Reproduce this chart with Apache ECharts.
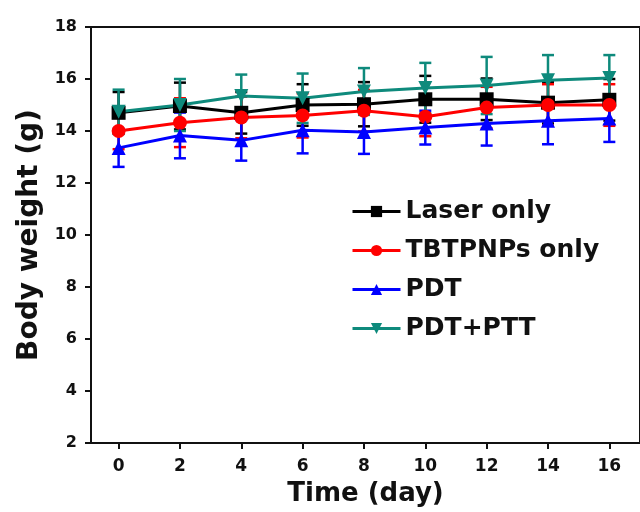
<!DOCTYPE html>
<html><head><meta charset="utf-8">
<script src="https://cdn.jsdelivr.net/npm/echarts@6/dist/echarts.min.js"></script>
<style>html,body{margin:0;padding:0;background:#fff}#c{width:640px;height:512px}</style>
</head><body><div id="c"></div>
<script>
var days = [0, 2, 4, 6, 8, 10, 12, 14, 16];
var xTicks = [0, 2, 4, 6, 8, 10, 12, 14, 16];
var seriesNames = ['Laser only', 'TBTPNPs only', 'PDT', 'PDT+PTT'];
var laserOnly = [14.7, 14.96, 14.7, 15.0, 15.03, 15.22, 15.22, 15.09, 15.2];
var laserErr = [0.8, 0.9, 0.8, 0.8, 0.85, 0.9, 0.8, 0.8, 0.8];
var tbtpnpsOnly = [14.0, 14.32, 14.52, 14.6, 14.78, 14.55, 14.9, 15.0, 15.0];
var tbtpnpsErr = [0.7, 0.94, 0.8, 0.85, 0.8, 0.75, 0.8, 0.8, 0.8];
var pdt = [13.35, 13.83, 13.64, 14.03, 13.96, 14.13, 14.29, 14.39, 14.48];
var pdtErr = [0.73, 0.88, 0.78, 0.89, 0.84, 0.65, 0.85, 0.9, 0.9];
var pdtPtt = [14.74, 15.0, 15.35, 15.26, 15.52, 15.65, 15.75, 15.95, 16.04];
var pdtPttErr = [0.85, 1.0, 0.82, 0.95, 0.9, 0.97, 1.1, 0.97, 0.88];

var colors = ['#000000', '#ff0000', '#0000ff', '#0e8a7c'];
var symbols = ['rect', 'circle', 'triangle', 'path://M0,0 L10,0 L5,9 Z'];
var means = [laserOnly, tbtpnpsOnly, pdt, pdtPtt];
var errs = [laserErr, tbtpnpsErr, pdtErr, pdtPttErr];
var FONT = 'DejaVu Sans';

var series = [];
means.forEach(function (m, i) {
  series.push({
    type: 'line', name: seriesNames[i], z: 3,
    data: days.map(function (d, k) { return [d, m[k]]; }),
    symbol: symbols[i], symbolSize: 14,
    showAllSymbol: true,
    lineStyle: { color: colors[i], width: 3 },
    itemStyle: { color: colors[i] },
    emphasis: { disabled: true }
  });
});
means.forEach(function (m, i) {
  var errData = days.map(function (d, k) { return [d, m[k] - errs[i][k], m[k] + errs[i][k]]; });
  series.push({
    type: 'custom', name: seriesNames[i], z: 2,
    data: errData,
    encode: { x: 0, y: [1, 2] },
    renderItem: function (params, api) {
      var x = api.value(0);
      var lo = api.coord([x, api.value(1)]);
      var hi = api.coord([x, api.value(2)]);
      var w = 6;
      var st = { stroke: colors[i], lineWidth: 2.5 };
      return { type: 'group', children: [
        { type: 'line', shape: { x1: lo[0], y1: lo[1], x2: hi[0], y2: hi[1] }, style: st },
        { type: 'line', shape: { x1: lo[0] - w, y1: lo[1], x2: lo[0] + w, y2: lo[1] }, style: st },
        { type: 'line', shape: { x1: hi[0] - w, y1: hi[1], x2: hi[0] + w, y2: hi[1] }, style: st }
      ]};
    }
  });
});

var chart = echarts.init(document.getElementById('c'), null, { renderer: 'canvas' });
chart.setOption({
  animation: false,
  backgroundColor: '#fff',
  color: colors,
  grid: { left: 91, right: -6, top: 27, bottom: 69, show: true, borderColor: '#111', borderWidth: 2, backgroundColor: 'transparent' },
  legend: {
    data: seriesNames,
    orient: 'vertical', left: 346, top: 194,
    itemWidth: 48, itemHeight: 14, itemGap: 14,
    lineStyle: { width: 3 },
    textStyle: { fontFamily: FONT, fontWeight: 'bold', fontSize: 25, color: '#111', padding: [0, 0, 0, 0] }
  },
  xAxis: {
    type: 'value', min: -0.9, max: 17,
    name: 'Time (day)', nameLocation: 'middle', nameGap: 38,
    nameTextStyle: { fontFamily: FONT, fontWeight: 'bold', fontSize: 26, color: '#111' },
    axisLine: { onZero: false, lineStyle: { color: '#111', width: 2 } },
    axisTick: { show: true, length: 6, lineStyle: { color: '#111', width: 2 }, customValues: xTicks },
    axisLabel: { customValues: xTicks, margin: 15, fontFamily: FONT, fontWeight: 'bold', fontSize: 17, color: '#111' },
    splitLine: { show: false }
  },
  yAxis: {
    type: 'value', min: 2, max: 18, interval: 2,
    name: 'Body weight (g)', nameLocation: 'middle', nameGap: 47,
    nameTextStyle: { fontFamily: FONT, fontWeight: 'bold', fontSize: 28, color: '#111' },
    axisLine: { show: true, onZero: false, lineStyle: { color: '#111', width: 2 } },
    axisTick: { show: true, length: 6, lineStyle: { color: '#111', width: 2 } },
    axisLabel: { margin: 14, fontFamily: FONT, fontWeight: 'bold', fontSize: 16, color: '#111' },
    splitLine: { show: false }
  },
  series: series
});
</script></body></html>
